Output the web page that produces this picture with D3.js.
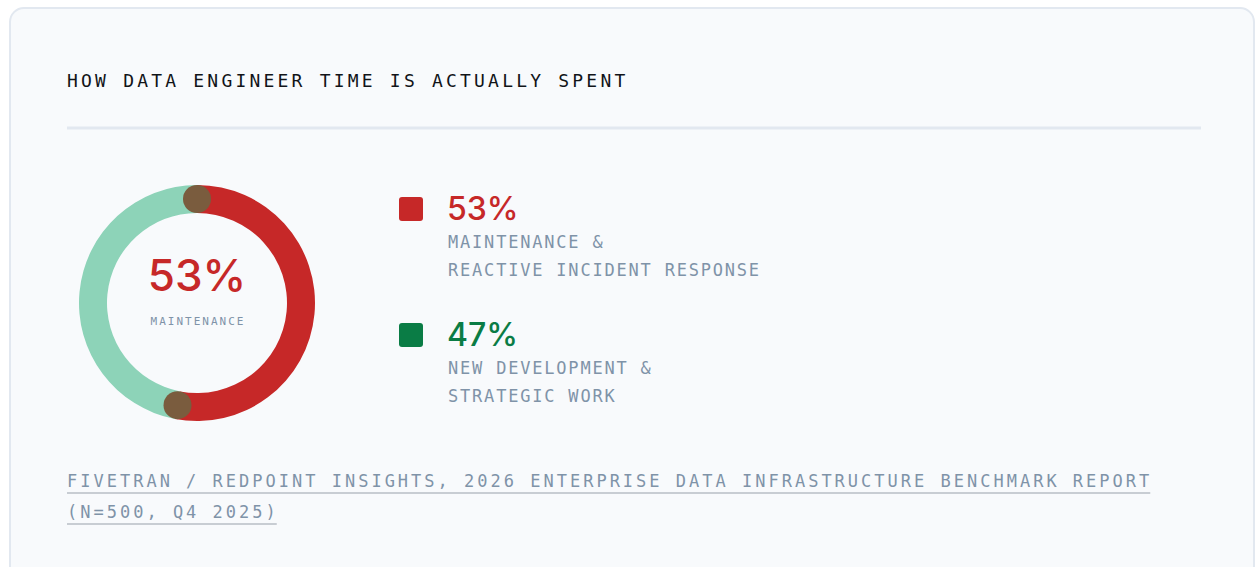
<!DOCTYPE html>
<html>
<head>
<meta charset="utf-8">
<script src="https://cdn.jsdelivr.net/npm/d3@7"></script>
<style>
  body { margin: 0; background: #ffffff; }
  svg { display: block; }
</style>
</head>
<body>
<script>
// data
var categories = ['maintenance', 'development'];
var values = [53, 47];
var valueLabels = ['53%', '47%'];
var legendLines = [
  ['MAINTENANCE &', 'REACTIVE INCIDENT RESPONSE'],
  ['NEW DEVELOPMENT &', 'STRATEGIC WORK']
];
var ringColors = ['#c62828', '#8dd3b8'];
var keyColors = ['#c62828', '#0a7c45'];
var title = 'HOW DATA ENGINEER TIME IS ACTUALLY SPENT';
var centerLabel = 'MAINTENANCE';
var sourceLines = [
  'FIVETRAN / REDPOINT INSIGHTS, 2026 ENTERPRISE DATA INFRASTRUCTURE BENCHMARK REPORT',
  '(N=500, Q4 2025)'
];

var breite = 1257;
var hoehe = 567;
var mono = "'DejaVu Sans Mono', 'Liberation Mono', monospace";
var sans = "Inter, 'Noto Sans', sans-serif";
var grau = '#7f93a8';

var svg = d3.select('body').append('svg')
  .attr('width', breite)
  .attr('height', hoehe);

// karte
svg.append('rect')
  .attr('x', 10).attr('y', 8)
  .attr('width', 1244).attr('height', 620)
  .attr('rx', 14)
  .attr('fill', '#f8fafc')
  .attr('stroke', '#e2e8f0')
  .attr('stroke-width', 2);

svg.append('text')
  .attr('x', 67).attr('y', 87)
  .attr('font-family', mono)
  .attr('font-size', 18)
  .attr('letter-spacing', 3.2)
  .attr('fill', '#111418')
  .text(title);

svg.append('line')
  .attr('x1', 67).attr('x2', 1201)
  .attr('y1', 128).attr('y2', 128)
  .attr('stroke', '#e2e8f0')
  .attr('stroke-width', 3);

// donut
var cx = 197, cy = 303, rMid = 104, ring = 28;
var g = svg.append('g').attr('transform', 'translate(' + cx + ',' + cy + ')');

var pie = d3.pie().sort(null).value(function(d) { return d; });
var arcs = pie(values);
var arc = d3.arc().innerRadius(rMid - ring / 2).outerRadius(rMid + ring / 2);

g.selectAll('path.seg')
  .data(arcs)
  .enter().append('path')
  .attr('class', 'seg')
  .attr('d', arc)
  .attr('fill', function(d, i) { return ringColors[i]; });

// runde kappen an den uebergaengen
var winkel = d3.scaleLinear().domain([0, d3.sum(values)]).range([0, 2 * Math.PI]);
var grenzen = [0, values[0]];
g.selectAll('circle.cap')
  .data(grenzen)
  .enter().append('circle')
  .attr('class', 'cap')
  .attr('cx', function(d) { return rMid * Math.sin(winkel(d)); })
  .attr('cy', function(d) { return -rMid * Math.cos(winkel(d)); })
  .attr('r', ring / 2)
  .attr('fill', '#7a5c3e');

g.append('text')
  .attr('x', 0).attr('y', -12)
  .attr('text-anchor', 'middle')
  .attr('font-family', sans)
  .attr('font-size', 44)
  .attr('font-weight', 500)
  .attr('fill', keyColors[0])
  .text(valueLabels[0]);

g.append('text')
  .attr('x', 1).attr('y', 22)
  .attr('text-anchor', 'middle')
  .attr('font-family', mono)
  .attr('font-size', 11)
  .attr('letter-spacing', 2)
  .attr('fill', grau)
  .text(centerLabel);

// legende
var legY = d3.scalePoint().domain(categories).range([197, 323]);
var leg = svg.selectAll('g.leg')
  .data(categories)
  .enter().append('g')
  .attr('class', 'leg')
  .attr('transform', function(d) { return 'translate(399,' + legY(d) + ')'; });

leg.append('rect')
  .attr('width', 24).attr('height', 24)
  .attr('rx', 3)
  .attr('fill', function(d, i) { return keyColors[i]; });

leg.append('text')
  .attr('x', 48).attr('y', 23)
  .attr('font-family', sans)
  .attr('font-size', 32)
  .attr('font-weight', 500)
  .attr('fill', function(d, i) { return keyColors[i]; })
  .text(function(d, i) { return valueLabels[i]; });

leg.each(function(d, i) {
  d3.select(this).selectAll('text.sub')
    .data(legendLines[i])
    .enter().append('text')
    .attr('class', 'sub')
    .attr('x', 49)
    .attr('y', function(t, j) { return 51 + j * 28; })
    .attr('font-family', mono)
    .attr('font-size', 17)
    .attr('letter-spacing', 1.8)
    .attr('fill', grau)
    .text(function(t) { return t; });
});

// quelle
var src = svg.selectAll('g.src')
  .data(sourceLines)
  .enter().append('g')
  .attr('class', 'src')
  .attr('transform', function(d, i) { return 'translate(67,' + (487 + i * 31) + ')'; });

src.append('text')
  .attr('font-family', mono)
  .attr('font-size', 17)
  .attr('letter-spacing', 3)
  .attr('fill', grau)
  .text(function(d) { return d; });

src.each(function() {
  var w = d3.select(this).select('text').node().getComputedTextLength();
  d3.select(this).append('line')
    .attr('x1', 0).attr('x2', w - 2)
    .attr('y1', 6).attr('y2', 6)
    .attr('stroke', '#c8cdd3')
    .attr('stroke-width', 2);
});
</script>
</body>
</html>
